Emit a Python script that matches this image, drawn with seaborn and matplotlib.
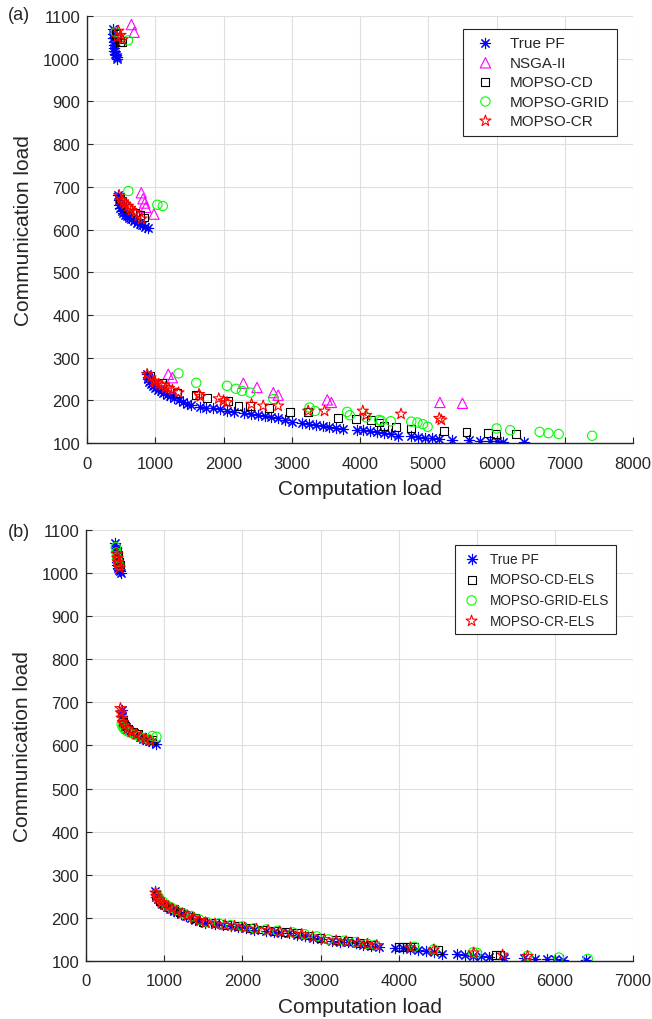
import matplotlib
matplotlib.use("Agg")
import matplotlib.pyplot as plt
import seaborn as sns
from matplotlib.ticker import MultipleLocator

# true Pareto front (same for both panels)
true_pf_x = [375, 380, 385, 390, 392, 398, 402, 410, 420, 432, 445,
             455, 462, 472, 488, 505, 525, 550, 580, 610, 650, 690, 730, 770, 810, 850, 890,
             880, 890, 900, 915, 940, 970, 1000, 1040, 1080, 1120, 1170, 1220, 1280, 1340,
             1400, 1460, 1520, 1650, 1750, 1850, 1950, 2050, 2150, 2300, 2400, 2500, 2600,
             2700, 2800, 2900, 3000, 3150, 3250, 3350, 3450, 3550, 3650, 3750, 3950, 4050,
             4150, 4250, 4350, 4450, 4550, 4750, 4850, 4950, 5050, 5150, 5350, 5600, 5750,
             5900, 6000, 6100, 6400]
true_pf_y = [1070, 1058, 1048, 1040, 1032, 1025, 1018, 1012, 1008, 1004, 1000,
             682, 668, 657, 650, 644, 639, 635, 631, 628, 624, 620, 616, 613, 610, 607, 604,
             262, 255, 249, 243, 238, 233, 229, 225, 221, 217, 213, 209, 205, 200,
             196, 192, 188, 185, 183, 181, 179, 176, 173, 170, 168, 166, 164,
             161, 158, 154, 150, 147, 145, 143, 141, 138, 135, 132, 131, 130,
             128, 126, 123, 120, 117, 116, 114, 112, 111, 110, 108, 106, 105,
             104, 104, 103, 102]

# panel (a)
nsga_x = [650, 690, 795, 820, 845, 860, 980, 1190, 1250, 2290, 2490, 2730, 2800,
          3520, 3580, 5170, 5500]
nsga_y = [1080, 1062, 686, 672, 662, 652, 636, 261, 253, 240, 230, 218, 212,
          201, 195, 195, 193]

cd_x = [420, 445, 465, 480, 510,
        480, 520, 600, 700, 780, 840,
        930, 1100, 1320, 1590, 1760, 2070, 2220, 2390, 2660, 2970, 3240, 3680, 3940,
        4160, 4280, 4350, 4530, 4740, 5230, 5560, 5870, 5990, 6280]
cd_y = [1058, 1050, 1046, 1040, 1038,
        672, 666, 650, 640, 634, 628,
        257, 241, 217, 212, 206, 199, 187, 187, 181, 172, 172, 158, 156,
        153, 148, 140, 137, 134, 129, 126, 123, 121, 121]

grid_x = [420, 600,
          605, 1030, 1110,
          1340, 1600, 2050, 2180, 2270, 2390, 2730, 3260, 3340, 3810, 3850, 4090, 4280,
          4310, 4450, 4750, 4840, 4920, 4990, 6000, 6200, 6630, 6760, 6910, 7400]
grid_y = [1062, 1043,
          690, 658, 655,
          263, 241, 234, 227, 222, 218, 203, 183, 175, 173, 165, 160, 154,
          152, 151, 150, 148, 144, 138, 134, 130, 126, 123, 121, 117]

cr_x = [440, 460, 490, 520,
        470, 500, 530, 560, 600, 630, 650, 700, 750, 800,
        880, 930, 980, 1000, 1050, 1100, 1150, 1200, 1250, 1340, 1640, 1660, 1930,
        2000, 2050, 2410, 2580, 2800, 3240, 3480, 4040, 4090, 4600, 5160, 5190]
cr_y = [1050, 1065, 1055, 1045,
        680, 670, 665, 660, 655, 650, 645, 640, 632, 625,
        261, 253, 245, 242, 238, 235, 230, 228, 224, 218, 214, 209, 204,
        199, 195, 191, 187, 187, 175, 175, 175, 165, 168, 158, 154]

# panel (b)
cd_els_x = [395, 405, 415, 425, 435,
            470, 500, 540, 600, 660, 720, 780, 840,
            900, 950, 1000, 1060, 1120, 1200, 1300, 1400, 1500, 1650, 1800, 1950, 2100,
            2250, 2400, 2550, 2700, 2850, 3000, 3200, 3350, 3500, 3650, 4000, 4050, 4100,
            4150, 4200, 4500, 5250, 5300]
cd_els_y = [1052, 1042, 1033, 1026, 1020,
            655, 646, 638, 632, 626, 620, 616, 612,
            252, 240, 232, 226, 220, 213, 206, 199, 191, 188, 184, 181, 177,
            173, 170, 168, 164, 159, 153, 148, 146, 142, 138, 133, 133, 133,
            132, 132, 125, 114, 113]

grid_els_x = [380, 388, 398, 410, 422,
              455, 470, 490, 520, 560, 620, 680, 740, 800, 850, 900,
              905, 930, 980, 1030, 1090, 1150, 1250, 1350, 1450, 1550, 1700, 1850, 2000,
              2150, 2300, 2450, 2650, 2800, 2950, 3100, 3300, 3450, 3600, 3700, 4200, 4450,
              4950, 5000, 5650, 6050, 6420]
grid_els_y = [1060, 1048, 1036, 1026, 1018,
              650, 643, 638, 634, 630, 625, 621, 617, 614, 622, 620,
              255, 248, 238, 230, 224, 218, 210, 204, 196, 190, 187, 183, 180,
              176, 173, 170, 166, 162, 157, 150, 147, 144, 140, 137, 133, 127,
              120, 119, 112, 108, 105]

cr_els_x = [395, 400, 408, 418, 430,
            440, 445, 455, 470, 495, 530, 580, 640, 700, 760, 820,
            890, 900, 920, 960, 1000, 1050, 1100, 1160, 1230, 1300, 1380, 1450, 1530,
            1650, 1780, 1900, 2030, 2180, 2330, 2480, 2620, 2760, 2900, 3050, 3200, 3330,
            3480, 3600, 3720, 4150, 4450, 4960, 5330, 5650]
cr_els_y = [1045, 1035, 1025, 1018, 1012,
            686, 676, 664, 654, 646, 639, 632, 626, 620, 615, 611,
            258, 250, 244, 236, 231, 226, 221, 216, 210, 205, 199, 194, 189,
            186, 183, 181, 177, 174, 171, 168, 165, 162, 156, 150, 147, 145,
            142, 139, 136, 131, 126, 119, 114, 111]

TEXT = "0.15"
ASTERISK = (8, 2, 0)

sns.set_theme(style="ticks")
plt.rcParams["font.family"] = ["Liberation Sans", "DejaVu Sans"]


def add_series(ax, x, y, label, marker, color, size):
    if marker == ASTERISK:
        sns.scatterplot(x=x, y=y, ax=ax, marker=marker, s=size, color=color,
                        linewidth=0.8, label=label)
    else:
        sns.scatterplot(x=x, y=y, ax=ax, marker=marker, s=size, facecolor="none",
                        edgecolor=color, linewidth=0.8, label=label)


def style_axes(ax, xmax, anchor, leg_size, leg_spacing, handle_len):
    ax.set_xlim(0, xmax)
    ax.set_ylim(100, 1100)
    ax.xaxis.set_major_locator(MultipleLocator(1000))
    ax.yaxis.set_major_locator(MultipleLocator(100))
    ax.grid(True, color="0.87", linewidth=0.8)
    ax.set_axisbelow(True)
    sns.despine(ax=ax)
    for side in ["left", "bottom"]:
        ax.spines[side].set_color(TEXT)
        ax.spines[side].set_linewidth(1.0)
    ax.tick_params(direction="in", length=4, width=0.8, colors=TEXT,
                   labelsize=12, labelcolor=TEXT)
    ax.tick_params(axis="x", pad=9)
    ax.tick_params(axis="y", pad=5)
    ax.set_xlabel("Computation load", fontsize=15, color=TEXT, labelpad=6)
    ax.set_ylabel("Communication load", fontsize=15, color=TEXT, labelpad=7)
    leg = ax.legend(loc="upper right", bbox_to_anchor=anchor, fontsize=leg_size,
                    frameon=True, fancybox=False, framealpha=1, borderpad=0.5,
                    labelspacing=leg_spacing, handlelength=handle_len,
                    handletextpad=0.6, borderaxespad=0)
    leg.get_frame().set_edgecolor(TEXT)
    leg.get_frame().set_linewidth(0.8)
    for t in leg.get_texts():
        t.set_color(TEXT)


fig = plt.figure(figsize=(6.52, 10.2), dpi=100)
ax_a = fig.add_axes([0.1335, 0.5647, 0.8375, 0.4186])
ax_b = fig.add_axes([0.132, 0.0569, 0.839, 0.4225])

add_series(ax_a, true_pf_x, true_pf_y, "True PF", ASTERISK, "blue", 55)
add_series(ax_a, nsga_x, nsga_y, "NSGA-II", "^", "magenta", 55)
add_series(ax_a, cd_x, cd_y, "MOPSO-CD", "s", "black", 32)
add_series(ax_a, grid_x, grid_y, "MOPSO-GRID", "o", "lime", 45)
add_series(ax_a, cr_x, cr_y, "MOPSO-CR", "*", "red", 70)
style_axes(ax_a, 8000, (0.971, 0.970), 11, 0.35, 2.0)

add_series(ax_b, true_pf_x, true_pf_y, "True PF", ASTERISK, "blue", 55)
add_series(ax_b, cd_els_x, cd_els_y, "MOPSO-CD-ELS", "s", "black", 32)
add_series(ax_b, grid_els_x, grid_els_y, "MOPSO-GRID-ELS", "o", "lime", 45)
add_series(ax_b, cr_els_x, cr_els_y, "MOPSO-CR-ELS", "*", "red", 70)
style_axes(ax_b, 7000, (0.969, 0.965), 9.8, 0.48, 1.5)

fig.text(0.012, 0.985, "(a)", fontsize=13, color=TEXT, va="center")
fig.text(0.012, 0.478, "(b)", fontsize=13, color=TEXT, va="center")

fig.savefig("out.png", dpi=100)
